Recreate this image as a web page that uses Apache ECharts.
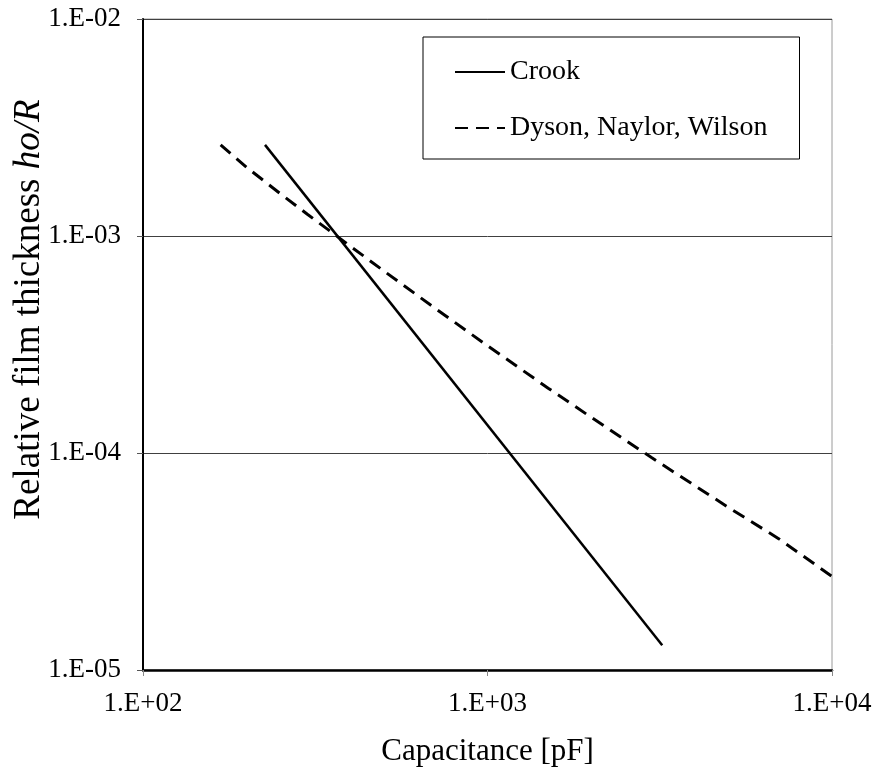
<!DOCTYPE html>
<html>
<head>
<meta charset="utf-8">
<script src="https://cdn.jsdelivr.net/npm/echarts@6/dist/echarts.min.js"></script>
<style>
html,body{margin:0;padding:0;background:#fff;}
#chart{width:877px;height:778px;}
</style>
</head>
<body>
<div id="chart"></div>
<script>
// Data
const seriesNames = ['Crook', 'Dyson, Naylor, Wilson'];
const crookX = [226, 3215];
const crookY = [2.63e-3, 1.30e-5];
const dnwX = [168, 200, 250, 300, 400, 500, 700, 1000, 1500, 2000, 3000, 5000, 7000, 10000];
const dnwY = [2.63e-3, 2.07e-3, 1.57e-3, 1.26e-3, 8.97e-4, 6.9e-4, 4.68e-4, 3.12e-4, 1.99e-4, 1.46e-4, 9.5e-5, 5.62e-5, 4.03e-5, 2.7e-5];
const xTickValues = [100, 1000, 10000];
const xTickLabels = ['1.E+02', '1.E+03', '1.E+04'];
const yTickValues = [1e-5, 1e-4, 1e-3, 1e-2];
const yTickLabels = ['1.E-05', '1.E-04', '1.E-03', '1.E-02'];

const FONT = '"Liberation Serif", "Times New Roman", serif';

function zip(xs, ys) { return xs.map((x, i) => [x, ys[i]]); }
function labelFor(values, labels, v) {
  let best = 0, bd = Infinity;
  values.forEach((t, i) => { const d = Math.abs(Math.log10(t) - Math.log10(v)); if (d < bd) { bd = d; best = i; } });
  return bd < 0.01 ? labels[best] : '';
}

const chart = echarts.init(document.getElementById('chart'), null, {renderer: 'canvas'});
chart.setOption({
  animation: false,
  backgroundColor: '#fff',
  grid: {left: 143, right: 45, top: 19, bottom: 108, containLabel: false, outerBoundsMode: 'none',
    show: true, borderColor: '#9a9a9a', borderWidth: 1, backgroundColor: 'transparent'},
  legend: {
    orient: 'vertical', left: 423, top: 37,
    borderColor: '#000', borderWidth: 1, backgroundColor: '#fff',
    padding: [20, 32, 16, 31], itemGap: 26, itemWidth: 50, itemHeight: 14,
    itemStyle: {opacity: 0},
    textStyle: {fontFamily: FONT, fontSize: 28, color: '#000', lineHeight: 30},
    data: seriesNames
  },
  xAxis: {
    type: 'log', logBase: 10, min: 100, max: 10000,
    name: 'Capacitance [pF]', nameLocation: 'middle', nameGap: 66, nameMoveOverlap: false,
    nameTextStyle: {fontFamily: FONT, fontSize: 31, color: '#000'},
    axisLine: {show: true, onZero: false, lineStyle: {color: '#000', width: 2.5}},
    axisTick: {show: true, length: 6, lineStyle: {color: '#888', width: 1}},
    minorTick: {show: false},
    splitLine: {show: false},
    axisLabel: {margin: 20, fontFamily: FONT, fontSize: 27, color: '#000',
      formatter: v => labelFor(xTickValues, xTickLabels, v)}
  },
  yAxis: {
    type: 'log', logBase: 10, min: 1e-5, max: 1e-2,
    name: '{n|Relative film thickness }{i|ho/R}', nameLocation: 'middle', nameGap: 95, nameMoveOverlap: false,
    nameTextStyle: {fontFamily: FONT, fontSize: 37, color: '#000', padding: [0, 0, 0, 70],
      rich: {n: {fontFamily: FONT, fontSize: 37, color: '#000'}, i: {fontFamily: FONT, fontSize: 37, color: '#000', fontStyle: 'italic'}}},
    axisLine: {show: true, onZero: false, lineStyle: {color: '#000', width: 2}},
    axisTick: {show: true, length: 6, lineStyle: {color: '#555', width: 1}},
    minorTick: {show: false},
    splitLine: {show: true, lineStyle: {color: '#404040', width: 1}},
    axisLabel: {margin: 22, fontFamily: FONT, fontSize: 27, color: '#000',
      formatter: v => labelFor(yTickValues, yTickLabels, v)}
  },
  series: [
    {name: seriesNames[0], type: 'line', data: zip(crookX, crookY), symbol: 'none', showSymbol: false,
      lineStyle: {color: '#000', width: 2.5, type: 'solid'}, itemStyle: {color: '#000'}},
    {name: seriesNames[1], type: 'line', data: zip(dnwX, dnwY), symbol: 'none', showSymbol: false,
      lineStyle: {color: '#000', width: 3, type: [13, 8]}, itemStyle: {color: '#000'}}
  ]
});
</script>
</body>
</html>
